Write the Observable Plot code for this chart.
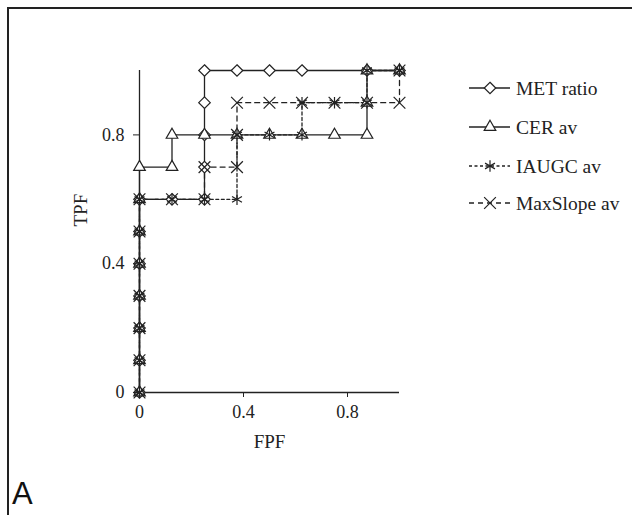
<!DOCTYPE html>
<html>
<head>
<meta charset="utf-8">
<script src="https://cdn.jsdelivr.net/npm/d3@7"></script>
<script src="https://cdn.jsdelivr.net/npm/@observablehq/plot@0.6"></script>
<style>
  body { margin: 0; background: #fff; }
  #wrap { position: relative; width: 632px; height: 515px; overflow: hidden; background: #fff; }
  #frame { position: absolute; left: 7px; top: 7px; width: 640px; height: 520px;
           border-top: 2px solid #222; border-left: 2px solid #222; }
  #panel { position: absolute; left: 12px; top: 478px; font-family: "Liberation Sans", Arial, sans-serif;
           font-size: 31px; color: #111; line-height: 1; }
  #chart { position: absolute; left: 0; top: 0; }
</style>
</head>
<body>
<div id="wrap">
  <div id="chart"></div>
  <div id="frame"></div>
  <div id="panel">A</div>
</div>
<script>
// ---- data ----
const seriesNames = ["MET ratio", "CER av", "IAUGC av", "MaxSlope av"];
const metFPF = [0,0,0,0,0,0,0,0.125,0.25,0.25,0.25,0.25,0.25,0.375,0.5,0.625,0.875,1];
const metTPF = [0,0.1,0.2,0.3,0.4,0.5,0.6,0.6,0.6,0.7,0.8,0.9,1,1,1,1,1,1];
const cerFPF = [0,0,0,0,0,0,0,0,0.125,0.125,0.25,0.375,0.5,0.625,0.75,0.875,0.875,0.875,1];
const cerTPF = [0,0.1,0.2,0.3,0.4,0.5,0.6,0.7,0.7,0.8,0.8,0.8,0.8,0.8,0.8,0.8,0.9,1,1];
const iaugcFPF = [0,0,0,0,0,0,0,0.125,0.25,0.375,0.375,0.5,0.625,0.625,0.75,0.875,0.875,1];
const iaugcTPF = [0,0.1,0.2,0.3,0.4,0.5,0.6,0.6,0.6,0.6,0.8,0.8,0.8,0.9,0.9,0.9,1,1];
const maxFPF = [0,0,0,0,0,0,0,0.125,0.25,0.25,0.375,0.375,0.375,0.5,0.625,0.75,0.875,1,1];
const maxTPF = [0,0.1,0.2,0.3,0.4,0.5,0.6,0.6,0.6,0.7,0.7,0.8,0.9,0.9,0.9,0.9,0.9,0.9,1];
const xTicks = [0, 0.4, 0.8];
const yTicks = [0, 0.4, 0.8];
const xTitle = "FPF";
const yTitle = "TPF";

const toRows = (fx, ty) => fx.map((f, i) => ({fpf: f, tpf: ty[i]}));
const met = toRows(metFPF, metTPF);
const cer = toRows(cerFPF, cerTPF);
const iaugc = toRows(iaugcFPF, iaugcTPF);
const maxs = toRows(maxFPF, maxTPF);

const ink = "#222";
const serif = "'Liberation Serif', 'Times New Roman', serif";
const styles = [
  {data: met, symbol: "diamond2", r: 5.2, fill: "white", dash: null},
  {data: cer, symbol: "triangle", r: 4.3, fill: "white", dash: null},
  {data: iaugc, symbol: "asterisk", r: 5.4, fill: "none", dash: "3,2.5"},
  {data: maxs, symbol: "times", r: 5.4, fill: "none", dash: "5,4"}
];

const marks = [];
marks.push(Plot.ruleY([0], {x1: 0, x2: 1, stroke: ink, strokeWidth: 1.3}));
marks.push(Plot.ruleX([0], {y1: 0, y2: 1, stroke: ink, strokeWidth: 1.3}));
for (const s of styles) {
  marks.push(Plot.line(s.data, {x: "fpf", y: "tpf", stroke: ink, strokeWidth: 1.3,
    strokeDasharray: s.dash || undefined}));
}
for (const s of styles) {
  marks.push(Plot.dot(s.data, {x: "fpf", y: "tpf", symbol: () => s.symbol, r: s.r,
    stroke: ink, fill: s.fill, strokeWidth: 1.2}));
}
marks.push(Plot.axisX({ticks: xTicks, tickFormat: d => String(d), tickSize: 5, tickPadding: 8,
  label: null, fontSize: 18, fontFamily: serif, color: ink}));
marks.push(Plot.axisY({ticks: yTicks, tickFormat: d => String(d), tickSize: 6, tickPadding: 9,
  label: null, fontSize: 18, fontFamily: serif, color: ink}));
marks.push(Plot.text([xTitle], {frameAnchor: "bottom", dy: 49, text: d => d, fontSize: 19,
  fontFamily: serif, fill: ink, lineAnchor: "middle"}));
marks.push(Plot.text([yTitle], {frameAnchor: "left", dx: -59, dy: -5, rotate: -90, text: d => d, fontSize: 19,
  fontFamily: serif, fill: ink, lineAnchor: "middle"}));

const chart = Plot.plot({
  width: 632, height: 515,
  marginLeft: 139, marginRight: 233, marginTop: 70, marginBottom: 123,
  x: {domain: [0, 1]},
  y: {domain: [0, 1]},
  style: {background: "white", fontFamily: serif, color: ink},
  marks
});
document.getElementById("chart").appendChild(chart);

// ---- legend ----
const svg = d3.select(chart);
const legendRows = [88, 127, 166, 203];
const symFns = {diamond2: d3.symbolDiamond2, triangle: d3.symbolTriangle, asterisk: d3.symbolAsterisk, times: d3.symbolTimes};
const lg = svg.append("g").attr("text-anchor", "start");
styles.forEach((s, i) => {
  const y = legendRows[i];
  lg.append("line").attr("x1", 469).attr("x2", 510).attr("y1", y).attr("y2", y)
    .attr("stroke", ink).attr("stroke-width", 1.3).attr("stroke-dasharray", s.dash || null);
  lg.append("path").attr("transform", `translate(490,${y})`)
    .attr("d", d3.symbol(symFns[s.symbol], Math.PI * s.r * s.r)())
    .attr("fill", s.fill).attr("stroke", ink).attr("stroke-width", 1.2);
  lg.append("text").attr("x", 516).attr("y", y).attr("dy", "0.35em").attr("text-anchor", "start")
    .attr("font-family", serif).attr("font-size", 19.5).attr("fill", ink).text(seriesNames[i]);
});
</script>
</body>
</html>
